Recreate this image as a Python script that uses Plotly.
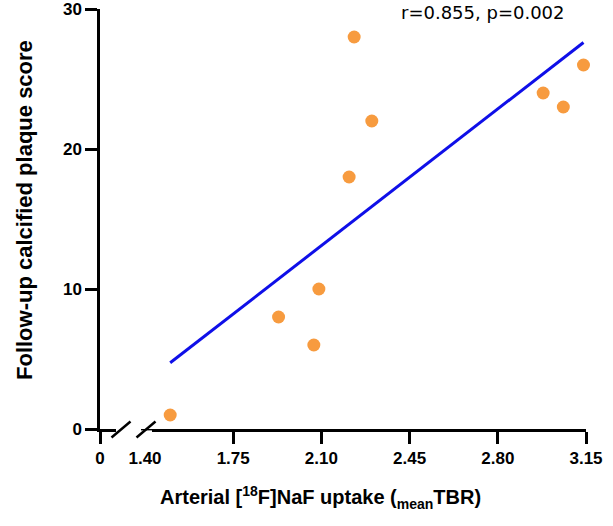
import numpy as np
import plotly.graph_objects as go

# Data
uptake_tbr = [1.50, 1.93, 2.07, 2.09, 2.21, 2.23, 2.30, 2.98, 3.06, 3.14]
plaque_score = [1, 8, 6, 10, 18, 28, 22, 24, 23, 26]
x_tick_vals = [1.40, 1.75, 2.10, 2.45, 2.80, 3.15]
x_tick_text = ["1.40", "1.75", "2.10", "2.45", "2.80", "3.15"]
y_tick_vals = [0, 10, 20, 30]
stats_label = "r=0.855, p=0.002"

# Linear fit
slope, intercept = np.polyfit(uptake_tbr, plaque_score, 1)
fit_x = [min(uptake_tbr), max(uptake_tbr)]
fit_y = [slope * v + intercept for v in fit_x]

# Figure geometry (pixels)
W, H = 613, 526
L, R, T, B = 100, 27, 9, 97
PW, PH = W - L - R, H - T - B   # 486 x 420
Y0 = H - B                      # pixel row of the x axis


def px(xs):
    return (xs - L) / PW


def py(ys):
    return (Y0 - ys) / PH


# broken axis: "0" sits at the y-axis, 1.40 starts 45px later
x_hi = 3.15
x_break = 1.40
x_lo = x_break - (x_hi - x_break) * 45 / (PW - 45)

ORANGE = "#F79B3F"
BLUE = "#0F0FE8"
FAM = "Liberation Sans, Arial, sans-serif"
tickfont = dict(family=FAM, size=17, color="black", weight="bold")

fig = go.Figure()
fig.add_trace(go.Scatter(x=fit_x, y=fit_y, mode="lines",
                         line=dict(color=BLUE, width=3), showlegend=False, hoverinfo="skip"))
fig.add_trace(go.Scatter(x=uptake_tbr, y=plaque_score, mode="markers",
                         marker=dict(color=ORANGE, size=13), showlegend=False, cliponaxis=False))

axis_common = dict(showline=True, linecolor="black", linewidth=2.5, ticks="outside",
                   tickwidth=2.5, tickcolor="black", ticklen=12, showgrid=False,
                   zeroline=False, tickfont=tickfont, automargin=False,
                   ticklabeloverflow="allow")

fig.update_layout(
    width=W, height=H,
    margin=dict(l=L, r=R, t=T, b=B, autoexpand=False),
    plot_bgcolor="white", paper_bgcolor="white",
    xaxis=dict(range=[x_lo, x_hi], tickvals=[x_lo] + x_tick_vals,
               ticktext=["0"] + x_tick_text, **axis_common),
    yaxis=dict(range=[0, 30], tickvals=y_tick_vals, **axis_common),
)

# gap in the x axis line and hide the tick at 1.40
fig.add_shape(type="rect", xref="paper", yref="paper", layer="above",
              x0=px(116), x1=px(141), y0=py(Y0 + 3), y1=py(Y0 - 3),
              line=dict(width=0), fillcolor="white")
fig.add_shape(type="rect", xref="paper", yref="paper", layer="above",
              x0=px(139), x1=px(152), y0=py(Y0 + 15), y1=py(Y0 + 1.4),
              line=dict(width=0), fillcolor="white")
# break marks
for cx in (121, 146):
    fig.add_shape(type="line", xref="paper", yref="paper", layer="above",
                  x0=px(cx - 9.5), y0=py(Y0 + 8.5), x1=px(cx + 9.5), y1=py(Y0 - 7.5),
                  line=dict(color="black", width=2.5))

annotations = [
    dict(x=px(320), y=py(497), xref="paper", yref="paper",
         text="<b>Arterial [<sup>18</sup>F]NaF uptake (<sub>mean</sub>TBR)</b>",
         showarrow=False, xanchor="center", yanchor="middle",
         font=dict(family=FAM, size=20, color="black")),
    dict(x=px(25), y=py(210), xref="paper", yref="paper",
         text="<b>Follow-up calcified plaque score</b>", textangle=-90,
         showarrow=False, xanchor="center", yanchor="middle",
         font=dict(family=FAM, size=22, color="black")),
    dict(x=px(483), y=py(13), xref="paper", yref="paper", text=stats_label,
         showarrow=False, xanchor="center", yanchor="middle",
         font=dict(family="DejaVu Sans, sans-serif", size=18, color="black")),
]
fig.update_layout(annotations=annotations)

fig.write_html("out.html", config={"displayModeBar": False},
               post_script="document.body.style.margin='0px';")
